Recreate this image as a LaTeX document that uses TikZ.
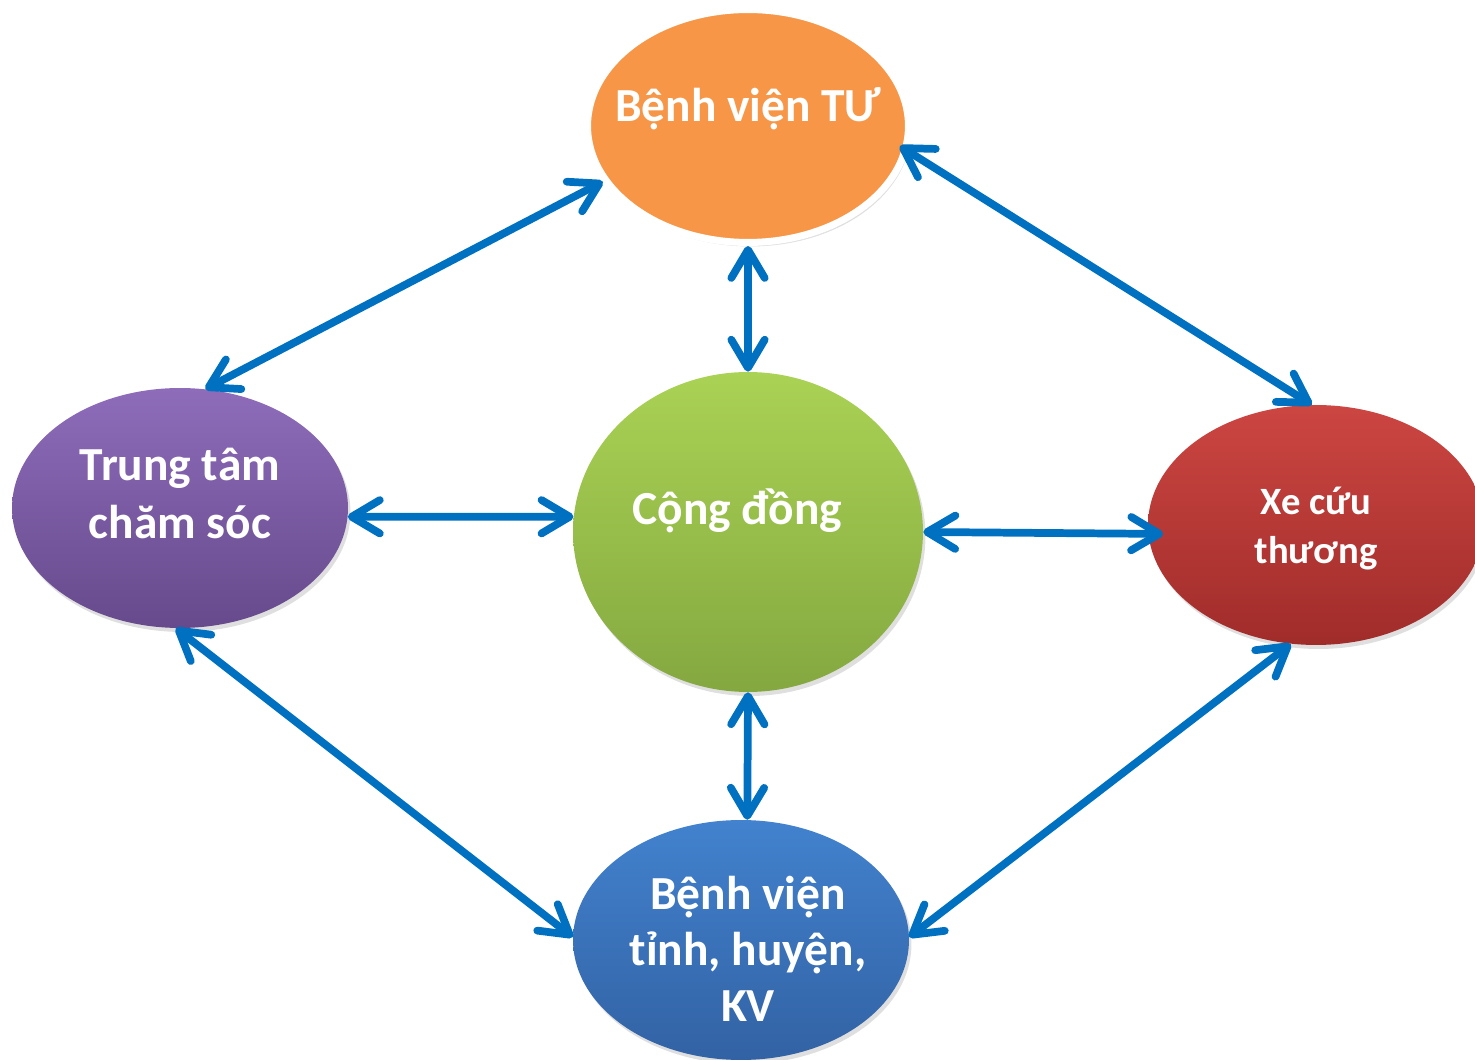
\documentclass[tikz,border=0pt]{standalone}
\usepackage{fontspec}
\setmainfont{Carlito}
\usetikzlibrary{shapes.geometric, arrows.meta, shadows}

\definecolor{linkblue}{HTML}{0070C0}
\definecolor{tuorange}{HTML}{F79646}
\definecolor{purpletop}{RGB}{142,108,186}
\definecolor{purplebot}{RGB}{102,74,140}
\definecolor{greentop}{RGB}{170,210,84}
\definecolor{greenbot}{RGB}{132,168,64}
\definecolor{redtop}{RGB}{204,70,66}
\definecolor{redbot}{RGB}{160,44,42}
\definecolor{bluetop}{RGB}{66,130,206}
\definecolor{bluebot}{RGB}{50,98,164}

\begin{document}
\begin{tikzpicture}[x=0.02cm, y=-0.02cm,
    bubble/.style={ellipse, inner sep=0pt, minimum width=6.72cm, minimum height=4.8cm,
        drop shadow={opacity=0.25, shadow xshift=0.5mm, shadow yshift=-0.8mm}},
    bubbletext/.style={text=white, align=center},
    link/.style={draw=linkblue, line width=4.4pt,
        {Straight Barb[length=16pt, width=19pt, round]}-{Straight Barb[length=16pt, width=19pt, round]}}]
    \useasboundingbox (0,0) rectangle (1475,1060);

    % Nodes
    \node (T) [bubble, fill=tuorange, draw=white, line width=4pt, minimum width=6.42cm, minimum height=4.66cm,
        drop shadow={opacity=0.35, shadow xshift=0.3mm, shadow yshift=-0.6mm},
        label={[bubbletext, font=\bfseries\fontsize{27}{32}\selectfont, yshift=10pt]center:{Bệnh viện TƯ}}] at (748,126) {};
    \node (L) [bubble, top color=purpletop, bottom color=purplebot,
        label={[bubbletext, font=\bfseries\fontsize{27}{33}\selectfont, yshift=8pt]center:{Trung tâm\\chăm sóc}}] at (180,508) {};
    \node (C) [bubble, top color=greentop, bottom color=greenbot, minimum width=7cm, minimum height=6.4cm,
        label={[bubbletext, font=\bfseries\fontsize{27}{32}\selectfont, yshift=12pt, xshift=-6pt]center:{Cộng đồng}}] at (748,532) {};
    \node (R) [bubble, top color=redtop, bottom color=redbot,
        label={[bubbletext, font=\bfseries\fontsize{22}{28}\selectfont, yshift=-2pt]center:{Xe cứu\\thương}}] at (1316,525) {};
    \node (B) [bubble, top color=bluetop, bottom color=bluebot,
        label={[bubbletext, font=\bfseries\fontsize{27}{32}\selectfont, yshift=-5pt, xshift=4pt]center:{Bệnh viện\\tỉnh, huyện,\\KV}}] at (741,940) {};

    % Links
    \draw[link] (T.201) -- (L.78);
    \draw[link] (T.south) -- (C.north);
    \draw[link, shorten <=-0.2cm] (T.-9) -- (R.92);
    \draw[link] (L.-3) -- (C.175);
    \draw[link, shorten >=-0.3cm] (C.east) -- (R.183);
    \draw[link] (C.south) -- (B.87);
    \draw[link] (L.268) -- (B.179);
    \draw[link] (R.258) -- (B.1);
\end{tikzpicture}
\end{document}
